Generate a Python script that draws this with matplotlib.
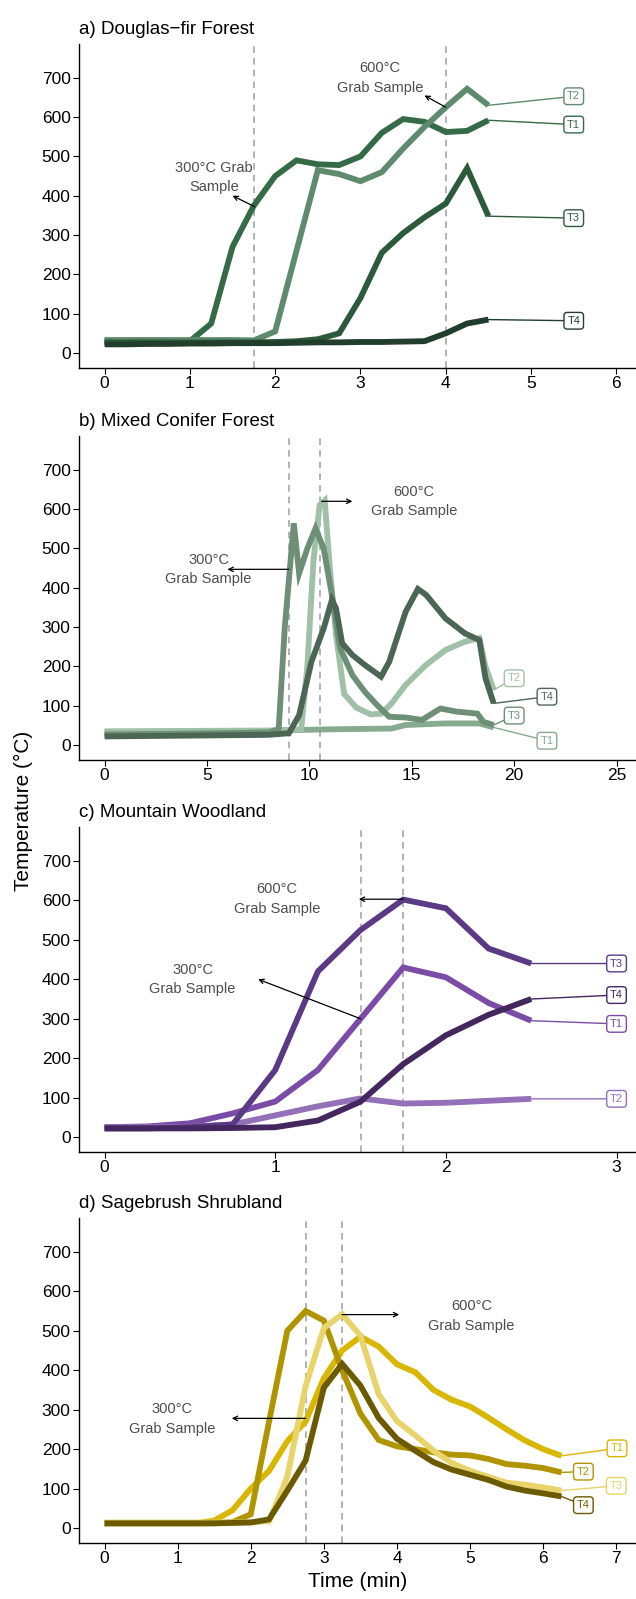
import matplotlib
matplotlib.use("Agg")
import matplotlib.pyplot as plt

plt.rcParams['font.family'] = ['Liberation Sans', 'DejaVu Sans']

# a) Douglas-fir Forest, readings every 0.25 min
a_time = [0, 0.25, 0.5, 0.75, 1.0, 1.25, 1.5, 1.75, 2.0, 2.25, 2.5, 2.75, 3.0,
          3.25, 3.5, 3.75, 4.0, 4.25, 4.5]
a_t1 = [30, 30, 30, 30, 30, 75, 270, 375, 450, 490, 480, 478, 500, 560, 595, 588, 562, 565, 592]
a_t2 = [33, 33, 33, 33, 33, 33, 33, 32, 55, 260, 465, 455, 437, 460, 520, 575, 625, 672, 630]
a_t3 = [27, 27, 27, 27, 27, 27, 27, 27, 28, 30, 35, 50, 140, 255, 305, 345, 380, 470, 348]
a_t4 = [22, 22, 23, 23, 24, 24, 25, 25, 25, 26, 27, 27, 28, 28, 29, 30, 50, 75, 85]

# b) Mixed Conifer Forest
b_t1_time = [0, 4, 8, 9.1, 11, 14.0, 14.7, 16.6, 18.3, 19.0]
b_t1 = [33, 34, 36, 38, 40, 42, 51, 55, 55, 45]
b_t2_time = [0, 4, 8, 9.6, 9.9, 10.2, 10.5, 10.75, 11.0, 11.3, 11.7, 12.3, 13.0, 13.5,
             14.0, 14.7, 15.7, 16.65, 17.6, 18.3, 18.6, 19.0]
b_t2 = [35, 36, 37, 40, 200, 470, 610, 622, 450, 280, 130, 95, 78, 80,
        105, 153, 204, 242, 263, 272, 200, 140]
b_t3_time = [0, 4, 8, 8.5, 8.8, 9.24, 9.5, 9.9, 10.3, 10.7, 11.1, 11.5, 12.1, 12.7,
             13.3, 13.9, 14.7, 15.5, 16.4, 17.2, 18.2, 18.5, 19.0]
b_t3 = [27, 29, 32, 40, 300, 564, 437, 500, 551, 500, 382, 246, 178, 136,
        102, 72, 70, 64, 93, 85, 80, 59, 51]
b_t4_time = [0, 4, 8, 9.0, 9.5, 10.1, 10.7, 11.1, 11.3, 11.6, 12.1, 12.7, 13.5, 13.9,
             14.7, 15.3, 15.7, 16.65, 17.6, 18.3, 18.6, 19.0]
b_t4 = [22, 24, 26, 30, 76, 212, 297, 369, 348, 259, 229, 204, 174, 212,
        339, 397, 382, 322, 284, 267, 170, 106]

# c) Mountain Woodland
c_time = [0, 0.25, 0.5, 0.75, 1.0, 1.25, 1.5, 1.75, 2.0, 2.25, 2.5]
c_t1 = [25, 27, 35, 60, 90, 170, 300, 430, 405, 340, 295]
c_t2 = [25, 25, 26, 32, 55, 78, 98, 85, 87, 92, 97]
c_t3 = [22, 22, 25, 32, 170, 420, 525, 602, 580, 478, 440]
c_t4 = [22, 22, 22, 23, 25, 42, 90, 185, 258, 310, 350]

# d) Sagebrush Shrubland
d_time = [0, 0.25, 0.5, 0.75, 1.0, 1.25, 1.5, 1.75, 2.0, 2.25, 2.5, 2.75, 3.0,
          3.25, 3.5, 3.75, 4.0, 4.25, 4.5, 4.75, 5.0, 5.25, 5.5, 5.75, 6.0, 6.25]
d_t1 = [12, 12, 12, 12, 12, 12, 19, 45, 100, 145, 220, 270, 380, 450, 485, 460, 415,
        395, 350, 325, 308, 280, 250, 222, 200, 183]
d_t2 = [12, 12, 12, 12, 12, 12, 12, 15, 35, 270, 500, 550, 526, 400, 290, 223, 207,
        200, 192, 186, 184, 175, 162, 158, 152, 141]
d_t3 = [14, 14, 14, 14, 14, 14, 14, 14, 15, 17, 130, 360, 507, 542, 488, 339, 271,
        235, 196, 165, 145, 130, 115, 110, 103, 95]
d_t4 = [12, 12, 12, 12, 12, 12, 12, 13, 14, 22, 95, 171, 356, 416, 361, 279, 226,
        196, 167, 148, 135, 122, 105, 95, 88, 80]

y_ticks = [0, 100, 200, 300, 400, 500, 600, 700]
txt_grey = '#4d4d4d'


def draw_panel(ax, title, series, colors, labels, vlines, notes, xlim, xticks):
    # series: name -> (times, values)
    for name, (t, v) in series.items():
        ax.plot(t, v, color=colors[name], lw=4.2, solid_capstyle='butt',
                solid_joinstyle='miter', zorder=3)
    for xv in vlines:
        ax.axvline(xv, color='#a6a6a6', ls=(0, (4, 3)), lw=1.2, zorder=2)
    for name, (lx, ly) in labels.items():
        t, v = series[name]
        ax.annotate(name, xy=(t[-1], v[-1]), xytext=(lx, ly), fontsize=8,
                    color=colors[name], ha='center', va='center',
                    annotation_clip=False, zorder=5,
                    bbox=dict(boxstyle='round,pad=0.3,rounding_size=0.3',
                              fc='white', ec=colors[name], lw=1),
                    arrowprops=dict(arrowstyle='-', color=colors[name], lw=1,
                                    shrinkA=0, shrinkB=0))
    for text, (tx, ty), tail, head in notes:
        ax.text(tx, ty, text, ha='center', va='center', fontsize=10.5,
                color=txt_grey, linespacing=1.5)
        ax.annotate('', xy=head, xytext=tail,
                    arrowprops=dict(arrowstyle='->', color='black', lw=0.9,
                                    shrinkA=0, shrinkB=0, mutation_scale=8),
                    zorder=6)
    ax.set_xlim(xlim)
    ax.set_ylim(-38, 786)
    ax.set_xticks(xticks)
    ax.set_yticks(y_ticks)
    ax.set_title(title, loc='left', fontsize=13.5, pad=7)
    for s in ['top', 'right']:
        ax.spines[s].set_visible(False)
    for s in ['left', 'bottom']:
        ax.spines[s].set_linewidth(1.0)
    ax.tick_params(direction='out', length=4, width=0.8, labelsize=12.5,
                   colors='black', pad=2)


fig = plt.figure(figsize=(6.36, 15.99), dpi=100)
left = 0.1242
ax_a = fig.add_axes([left, 0.7699, 1 - left, 0.2026])
ax_b = fig.add_axes([left, 0.5247, 1 - left, 0.2026])
ax_c = fig.add_axes([left, 0.2795, 1 - left, 0.2033])
ax_d = fig.add_axes([left, 0.0350, 1 - left, 0.2033])

draw_panel(
    ax_a, 'a) Douglas\u2212fir Forest',
    {'T1': (a_time, a_t1), 'T2': (a_time, a_t2), 'T3': (a_time, a_t3), 'T4': (a_time, a_t4)},
    {'T1': '#356b47', 'T2': '#5e8a6e', 'T3': '#2e5a3c', 'T4': '#213d2b'},
    {'T2': (5.5, 653), 'T1': (5.5, 581), 'T3': (5.5, 343), 'T4': (5.5, 82)},
    [1.75, 4.0],
    [('300°C Grab\nSample', (1.28, 447), (1.76, 372), (1.5, 400)),
     ('600°C\nGrab Sample', (3.23, 699), (4.0, 625), (3.75, 655))],
    (-0.3, 6.23), range(0, 7))

draw_panel(
    ax_b, 'b) Mixed Conifer Forest',
    {'T1': (b_t1_time, b_t1), 'T2': (b_t2_time, b_t2), 'T3': (b_t3_time, b_t3),
     'T4': (b_t4_time, b_t4)},
    {'T1': '#86ab90', 'T2': '#a0c0a7', 'T3': '#6d8f75', 'T4': '#4b6654'},
    {'T2': (20.0, 170), 'T4': (21.6, 123), 'T3': (20.0, 75), 'T1': (21.6, 11)},
    [9.0, 10.5],
    [('300°C\nGrab Sample', (5.08, 447), (9.0, 447), (6.0, 447)),
     ('600°C\nGrab Sample', (15.1, 620), (10.6, 620), (12.1, 620))],
    (-1.25, 25.95), range(0, 26, 5))

draw_panel(
    ax_c, 'c) Mountain Woodland',
    {'T1': (c_time, c_t1), 'T2': (c_time, c_t2), 'T3': (c_time, c_t3), 'T4': (c_time, c_t4)},
    {'T1': '#7a4ca8', 'T2': '#9470b8', 'T3': '#5b3a85', 'T4': '#44275e'},
    {'T3': (3.0, 440), 'T4': (3.0, 360), 'T1': (3.0, 287), 'T2': (3.0, 97)},
    [1.5, 1.75],
    [('600°C\nGrab Sample', (1.01, 603), (1.75, 603), (1.49, 603)),
     ('300°C\nGrab Sample', (0.515, 400), (1.5, 300), (0.9, 400))],
    (-0.15, 3.114), range(0, 4))

draw_panel(
    ax_d, 'd) Sagebrush Shrubland',
    {'T1': (d_time, d_t1), 'T2': (d_time, d_t2), 'T3': (d_time, d_t3), 'T4': (d_time, d_t4)},
    {'T1': '#d9b600', 'T2': '#b09500', 'T3': '#e8d46a', 'T4': '#6c5a00'},
    {'T1': (7.01, 202), 'T2': (6.55, 143), 'T3': (7.0, 107), 'T4': (6.55, 58)},
    [2.75, 3.25],
    [('300°C\nGrab Sample', (0.92, 277), (2.75, 278), (1.74, 278)),
     ('600°C\nGrab Sample', (5.02, 538), (3.25, 541), (4.03, 541))],
    (-0.35, 7.27), range(0, 8))

ax_d.set_xlabel('Time (min)', fontsize=15, labelpad=4)
fig.text(23 / 636, 0.493, 'Temperature (°C)', rotation=90, ha='center',
         va='center', fontsize=15)

fig.savefig('out.png', dpi=100)
